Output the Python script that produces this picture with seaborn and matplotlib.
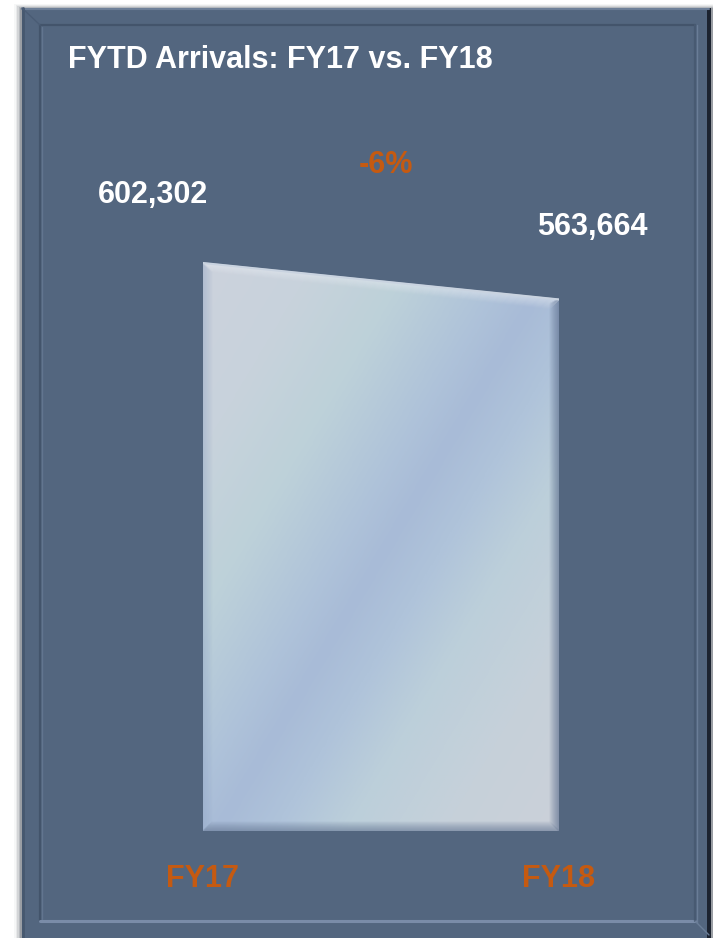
import numpy as np
import pandas as pd
import seaborn as sns
import matplotlib.pyplot as plt
from matplotlib.colors import LinearSegmentedColormap
from matplotlib.patches import Rectangle

years = ['FY17', 'FY18']
arrivals = [602302, 563664]
change_label = '-6%'
title = 'FYTD Arrivals: FY17 vs. FY18'

W, H = 713, 938
PANEL = '#53667f'
ORANGE = '#c55a11'
FONT = ['Liberation Sans', 'DejaVu Sans']

sns.set_theme(style='white')
plt.rcParams['font.family'] = FONT
plt.rcParams['font.weight'] = 'bold'

fig = plt.figure(figsize=(W / 100, H / 100), dpi=100)
fig.patch.set_facecolor('white')

# frame drawn in pixel coordinates
bg = fig.add_axes([0, 0, 1, 1])
bg.set_xlim(0, W)
bg.set_ylim(H, 0)
bg.axis('off')
for i, a in enumerate([0.04, 0.07, 0.11, 0.16, 0.22]):
    bg.add_patch(Rectangle((14 + i * 1.6, 4 + i), 700, 940, color='#303846', alpha=a, lw=0))
bg.add_patch(Rectangle((22, 8), 687, 935, color=PANEL, lw=0))
bg.add_patch(Rectangle((707, 8), 4, 935, color='#1c2330', lw=0))
bg.plot([22, 709], [9, 9], color='#6d7f98', lw=1.5)
bg.plot([23, 23], [8, 938], color='#46586f', lw=2)
# inner bevel
bg.plot([40, 40], [25, 921], color='#43546b', lw=1.6)
bg.plot([40, 695], [25, 25], color='#43546b', lw=1.6)
bg.plot([42, 42], [27, 919], color='#62758f', lw=1)
bg.plot([40, 695], [921, 921], color='#7a8ca8', lw=2.2)
bg.plot([695, 695], [25, 921], color='#485a72', lw=1.6)
bg.plot([697, 697], [25, 923], color='#6a7d97', lw=1)
bg.plot([22, 40], [8, 25], color='#4a5c75', lw=1)
bg.plot([695, 709], [921, 935], color='#6a7d97', lw=1)

# area chart
x0, x1, ybase = 203, 559, 831
scale = 568 / arrivals[0]
ytop = 650000
ax = fig.add_axes([x0 / W, (H - ybase) / H, (x1 - x0) / W, ytop * scale / H])
ax.set_xlim(0, 1)
ax.set_ylim(0, ytop)
ax.axis('off')

df = pd.DataFrame({'year': years, 'pos': [0, 1], 'arrivals': arrivals})

poly = ax.fill_between(df['pos'], 0, df['arrivals'], color='none', lw=0)

gloss = LinearSegmentedColormap.from_list('gloss', [
    (0.00, '#cdd2dd'), (0.18, '#c8d3dc'), (0.32, '#bdd1d9'),
    (0.44, '#b0c4da'), (0.52, '#a8bbd7'), (0.60, '#afc3da'),
    (0.70, '#bccfda'), (0.84, '#c6d1da'), (1.00, '#cbd0d9')])
u, v = np.meshgrid(np.linspace(0, 1, 300), np.linspace(1, 0, 300))
grad = (u - 0.95 * v + 1) / 2
img = ax.imshow(grad, cmap=gloss, extent=(0, 1, 0, arrivals[0]),
                aspect='auto', interpolation='bilinear', vmin=0, vmax=1)
img.set_clip_path(poly.get_paths()[0], transform=ax.transData)

# soft bevel edges of the area
px_x = 1 / (x1 - x0)
px_y = 1 / scale
for k in range(10):
    a = 0.55 * (1 - k / 10)
    ax.plot([1 - k * px_x] * 2, [k * px_y, arrivals[1] - k * px_y * 0.5],
            color='#5f7190', alpha=a, lw=1.1)
    ax.plot([k * px_x, 1 - k * px_x], [k * px_y] * 2,
            color='#6a7c98', alpha=a, lw=1.1)
    ax.plot([k * px_x] * 2, [k * px_y, arrivals[0] - k * px_y],
            color='#90a4c4', alpha=0.6 * a, lw=1.1)
    ax.plot([k * px_x, 1 - k * px_x],
            [arrivals[0] - k * px_y, arrivals[1] - k * px_y],
            color='#e4e9f0', alpha=0.8 * a, lw=1.1)
sns.lineplot(data=df, x='pos', y='arrivals', ax=ax, color='#c9d3e0', lw=1.5)

fs = 22
ax.annotate(f'{arrivals[0]:,}', (0, arrivals[0]), xytext=(-50, 60),
            textcoords='offset pixels', ha='center', va='baseline',
            color='white', fontsize=fs, fontweight='bold', annotation_clip=False)
ax.annotate(f'{arrivals[1]:,}', (1, arrivals[1]), xytext=(33, 64),
            textcoords='offset pixels', ha='center', va='baseline',
            color='white', fontsize=fs, fontweight='bold', annotation_clip=False)
fig.text(386 / W, 1 - 173 / H, change_label, ha='center', va='baseline',
         color=ORANGE, fontsize=fs, fontweight='bold')
for p, name in zip(df['pos'], df['year']):
    ax.annotate(name, (p, 0), xytext=(0, -56), textcoords='offset pixels',
                ha='center', va='baseline', color=ORANGE, fontsize=fs,
                fontweight='bold', annotation_clip=False)

fig.text(68 / W, 1 - 68 / H, title, ha='left', va='baseline',
         color='white', fontsize=22, fontweight='bold')

plt.savefig('out.png', dpi=100)
